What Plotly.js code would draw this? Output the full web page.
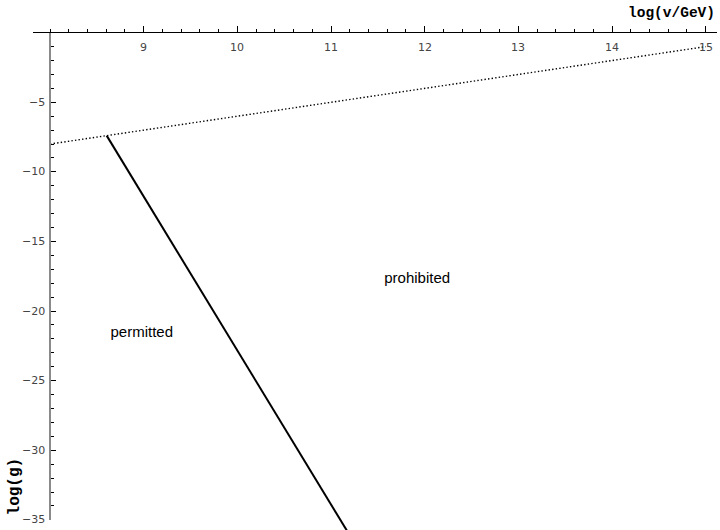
<!DOCTYPE html>
<html>
<head>
<meta charset="utf-8">
<script src="https://cdn.plot.ly/plotly-3.0.1.min.js"></script>
<style>
  html, body { margin: 0; padding: 0; background: #fff; }
  #plot { width: 720px; height: 530px; }
</style>
</head>
<body>
<div id="plot"></div>
<script>
// Upper bound on the coupling (dotted) and the constraint line (solid)
const boundX = [8, 15];
const boundY = [-8, -1];
const limitX = [8.605, 11.19];
const limitY = [-7.395, -36];

// Region labels
const regionText = ['permitted', 'prohibited'];
const regionX = [8.98, 11.92];
const regionY = [-21.6, -17.7];

// Axis ticks
const xTicks = [9, 10, 11, 12, 13, 14, 15];
const yTicks = [-5, -10, -15, -20, -25, -30, -35];

// Full drawing area in data units (common scale for data and axes)
const X_RANGE = [7.466, 15.153];
const Y_RANGE = [-35.73, 2.35];
// Extent of the drawn axes
const AX_X = [7.82, 15.12];
const AX_Y = [-35, 0];
const Y_AXIS_AT = 8;

const fx = v => (v - X_RANGE[0]) / (X_RANGE[1] - X_RANGE[0]);
const fy = v => (v - Y_RANGE[0]) / (Y_RANGE[1] - Y_RANGE[0]);
const fmt = v => (v < 0 ? '\u2212' : '') + Math.abs(v);

const traces = [
  {
    x: boundX, y: boundY, mode: 'lines', type: 'scatter',
    line: { color: '#000', width: 1.4, dash: '1.4px,2.2px' },
    hoverinfo: 'skip', showlegend: false
  },
  {
    x: limitX, y: limitY, mode: 'lines', type: 'scatter',
    line: { color: '#000', width: 2 },
    hoverinfo: 'skip', showlegend: false
  },
  {
    x: regionX, y: regionY, text: regionText, mode: 'text', type: 'scatter',
    textfont: { family: 'Liberation Sans, Arial, sans-serif', size: 15, color: '#000' },
    textposition: 'middle center', hoverinfo: 'skip', showlegend: false
  },
  // keeps the axes subplot alive
  { x: [], y: [], xaxis: 'x2', yaxis: 'y2', type: 'scatter', mode: 'lines', showlegend: false }
];

const tickFont = { family: 'DejaVu Sans, sans-serif', size: 11, color: '#444' };
const titleFont = { family: 'Liberation Mono, Courier New, monospace', size: 14.5, color: '#000', weight: 'bold' };

// Tick labels sit on the inner side of the crossing axes
const xTickLabels = xTicks.map(v => ({
  text: fmt(v), xref: 'x2', yref: 'y2', x: v, y: 0,
  xanchor: 'center', yanchor: 'middle', yshift: -15,
  showarrow: false, font: tickFont
}));
const yTickLabels = yTicks.map(v => ({
  text: fmt(v), xref: 'paper', yref: 'y2', x: fx(Y_AXIS_AT), y: v,
  xanchor: 'right', yanchor: 'middle', xshift: -3,
  showarrow: false, font: tickFont
}));

const layout = {
  width: 720, height: 530,
  margin: { l: 0, r: 0, t: 0, b: 0 },
  paper_bgcolor: '#fff', plot_bgcolor: 'rgba(0,0,0,0)',
  showlegend: false,
  xaxis: { range: X_RANGE, domain: [0, 1], visible: false, fixedrange: true },
  yaxis: { range: Y_RANGE, domain: [0, 1], visible: false, fixedrange: true },
  xaxis2: {
    range: AX_X, domain: [fx(AX_X[0]), fx(AX_X[1])],
    anchor: 'y2', side: 'top',
    showline: true, linecolor: '#000', linewidth: 1,
    showgrid: false, zeroline: false,
    ticks: 'outside', ticklen: 6, tickwidth: 1, tickcolor: '#000',
    tickmode: 'array', tickvals: xTicks, showticklabels: false,
    minor: { tickmode: 'linear', tick0: 0, dtick: 0.2, ticks: 'outside', ticklen: 3, tickcolor: '#000', showgrid: false },
    fixedrange: true
  },
  yaxis2: {
    range: AX_Y, domain: [fy(AX_Y[0]), fy(AX_Y[1])],
    anchor: 'free', position: fx(Y_AXIS_AT), side: 'left',
    showline: true, linecolor: '#8a8a8a', linewidth: 2,
    showgrid: false, zeroline: false,
    ticks: 'inside', ticklen: 5, tickwidth: 1, tickcolor: '#000',
    tickmode: 'array', tickvals: yTicks, showticklabels: false,
    minor: { tickmode: 'linear', tick0: 0, dtick: 1, ticks: 'inside', ticklen: 3, tickcolor: '#000', showgrid: false },
    fixedrange: true
  },
  annotations: [
    ...xTickLabels,
    ...yTickLabels,
    {
      text: 'log(v/GeV)', xref: 'paper', yref: 'paper',
      x: fx(15.12), y: fy(1.45), xanchor: 'right', yanchor: 'middle',
      showarrow: false, font: titleFont
    },
    {
      text: 'log(g)', xref: 'paper', yref: 'paper',
      x: 15 / 720, y: fy(-32.6), xanchor: 'center', yanchor: 'middle',
      textangle: -90, showarrow: false,
      font: { family: 'Liberation Mono, Courier New, monospace', size: 16, color: '#000', weight: 'bold' }
    }
  ]
};

Plotly.newPlot('plot', traces, layout, { staticPlot: true, displayModeBar: false });
</script>
</body>
</html>
